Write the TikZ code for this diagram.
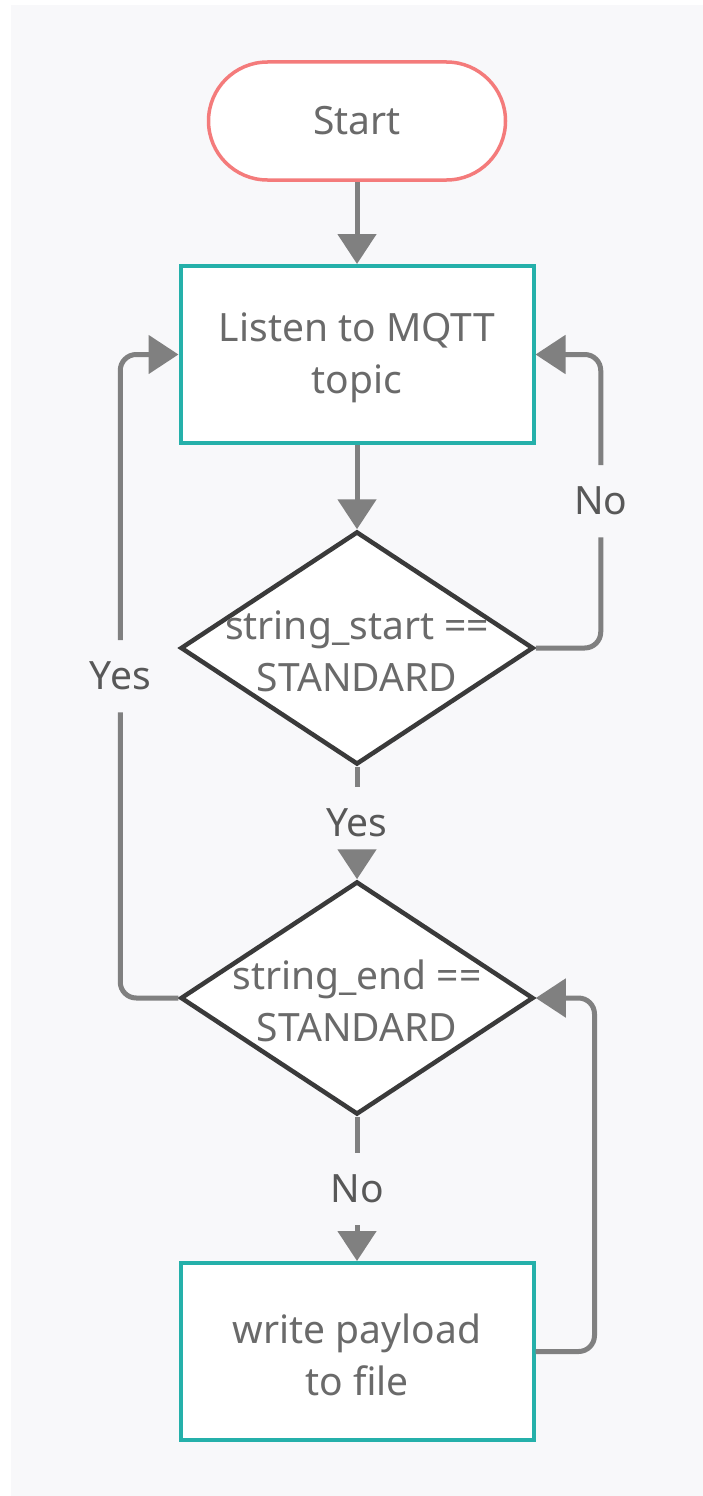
\documentclass[tikz,border=0pt]{standalone}
\usepackage{fontspec}
\setmainfont{Noto Sans}
\usetikzlibrary{arrows.meta,shapes.geometric,calc}
\definecolor{bgc}{HTML}{F8F8FA}
\definecolor{startc}{HTML}{F47B7B}
\definecolor{boxc}{HTML}{25B0AA}
\definecolor{decc}{HTML}{3A3A3A}
\definecolor{linkc}{HTML}{808080}
\definecolor{txtc}{HTML}{6A6A6A}
\definecolor{lblc}{HTML}{585858}
\begin{document}
\begin{tikzpicture}[x=1pt,y=-1pt,
  every node/.style={font=\fontsize{39}{52}\selectfont, text=txtc},
  terminal/.style={draw=startc, line width=3.5pt, fill=white, rounded corners=59pt,
    minimum width=297pt, minimum height=118pt, inner sep=0},
  process/.style={draw=boxc, line width=4pt, fill=white, minimum width=353pt,
    minimum height=177pt, inner sep=0},
  decision/.style={draw=decc, line width=4.5pt, fill=white, diamond,
    minimum width=353pt, minimum height=233pt, inner sep=0},
  dtext/.style={align=center, inner sep=0, yshift=-3pt},
  conn/.style={draw=linkc, line width=5pt, rounded corners=16pt},
  arr/.style={conn, -{Triangle[width=38pt,length=30pt]}},
  lbl/.style={text=lblc, minimum height=72pt, text height=27pt, text depth=0pt, inner sep=2pt},
]
% canvas
\useasboundingbox (0,0) rectangle (703,1496);
\fill[bgc] (11,5) rectangle (703,1496);

% nodes
\node[terminal] (s) at (357,121) {Start};
\node[process] (b1) at (357,354.5) {};
\node[dtext] (tb1) at (b1.center) {Listen to MQTT\\topic};
\node[decision] (d1) at (357,648) {};
\node[dtext] (t1) at (d1.center) {string\_start ==\\STANDARD};
\node[decision] (d2) at (357,998) {};
\node[dtext] (t2) at (d2.center) {string\_end ==\\STANDARD};
\node[process] (b2) at (357,1351.5) {};
\node[dtext] (tb2) at (b2.center) {write payload\\to file};

% branch labels
\node[lbl] (ym) at ($(d1.south)!0.5!(d2.north)$) {Yes};
\node[lbl] (nm) at ($(d2.south)!0.5!(b2.north)$) {No};
\coordinate (nr) at ([xshift=65pt]d1.east);
\node[lbl] (nside) at ($(nr)!0.5!(nr |- b1.east)$) {No};
\coordinate (yl) at ([xshift=-58pt]d2.west);
\node[lbl] (yside) at ($(yl)!0.5!(yl |- b1.west)$) {Yes};
\coordinate (wr) at ([xshift=59pt]b2.east);

% connectors
\draw[arr] (s.south) -- (b1.north);
\draw[arr] (b1.south) -- (d1.north);
\draw[conn] (d1.south) -- (ym.north);
\draw[arr] (ym.south) -- (d2.north);
\draw[conn] (d2.south) -- (nm.north);
\draw[arr] (nm.south) -- (b2.north);
\draw[conn] (d1.east) -- (nr) -- (nside.south);
\draw[arr] (nside.north) |- (b1.east);
\draw[conn] (d2.west) -- (yl) -- (yside.south);
\draw[arr] (yside.north) |- (b1.west);
\draw[arr] (b2.east) -- (wr) |- (d2.east);
\end{tikzpicture}
\end{document}
